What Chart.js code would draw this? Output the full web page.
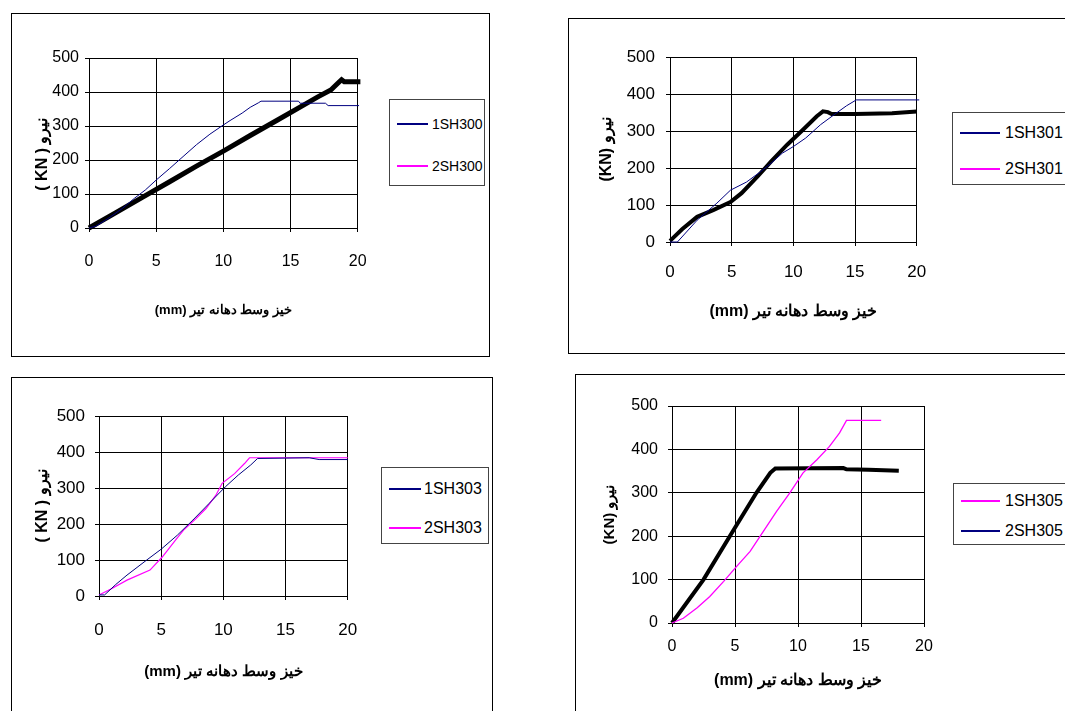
<!DOCTYPE html>
<html>
<head>
<meta charset="utf-8">
<script src="https://cdn.jsdelivr.net/npm/chart.js@4.4.1/dist/chart.umd.min.js"></script>
<style>
  html, body { margin: 0; padding: 0; background: #fff; }
  body { width: 1065px; height: 711px; position: relative; overflow: hidden; font-family: "Liberation Sans", Arial, sans-serif; }
  .frame { position: absolute; border: 1px solid #000; box-sizing: border-box; }
  canvas { position: absolute; }
  .legend { position: absolute; border: 1px solid #444; box-sizing: border-box; background: #fff; }
  .lg-line { position: absolute; height: 0; }
  .lg-text { position: absolute; white-space: nowrap; color: #000; }
</style>
</head>
<body>
<div class="frame" style="left:11px;top:13px;width:479px;height:344px"></div>
<div class="frame" style="left:568px;top:18px;width:600px;height:336px"></div>
<div class="frame" style="left:11px;top:377px;width:482px;height:400px"></div>
<div class="frame" style="left:575px;top:374px;width:600px;height:400px"></div>
<canvas id="c1"></canvas>
<canvas id="c2"></canvas>
<canvas id="c3"></canvas>
<canvas id="c4"></canvas>
<script>
const NAVY = '#000080';
const MAGENTA = '#ff00ff';
const BLACK = '#000000';
const FONT = '"Liberation Sans", Arial, sans-serif';

const xTitle = '(mm) خیز وسط دهانه تیر';

// panel 1: 1SH300 / 2SH300
const sh300_1x = [0, 0.5, 1.5, 2.5, 3.4, 4.2, 5, 6, 7, 8, 9, 10, 10.5, 11.4, 12, 12.6, 12.8, 15.6, 15.7, 17.6, 17.8, 20.1];
const sh300_1y = [0, 5, 30, 58, 88, 112, 141, 175, 210, 245, 276, 303, 316, 338, 355, 368, 373, 373, 367, 367, 360, 360];
const sh300_2x = [0, 2, 4, 6, 8, 10, 12, 14, 16, 17, 18, 18.5, 18.8, 19, 20.2];
const sh300_2y = [0, 45, 91, 136, 182, 226, 272, 317, 362, 385, 406, 425, 436, 430, 430];

// panel 2: 1SH301 / 2SH301
const sh301_1x = [0, 0.6, 2.2, 3.8, 4.9, 6.2, 7.3, 8.2, 9.1, 10, 11, 12.2, 13.3, 14.3, 15.1, 20.2];
const sh301_1y = [0, 0, 59, 105, 140, 162, 189, 213, 240, 258, 281, 317, 344, 368, 384, 384];
const sh301_2x = [0, 1, 2.2, 3.5, 4.9, 5.8, 7.1, 8.2, 9.5, 10.8, 11.9, 12.4, 12.8, 13.1, 15, 18, 20];
const sh301_2y = [3, 35, 68, 86, 108, 132, 177, 218, 263, 304, 340, 353, 351, 346, 346, 348, 353];

// panel 3: 1SH303 / 2SH303
const sh303_1x = [0, 0.45, 1.35, 2.25, 3.8, 5, 6.3, 7.55, 8.85, 10.15, 11.2, 12.2, 12.75, 16.9, 17.7, 20];
const sh303_1y = [3, 3, 32, 58, 99, 130, 169, 211, 257, 303, 336, 364, 382, 384, 379, 379];
const sh303_2x = [0, 1, 2.25, 4.1, 5.1, 6.15, 6.8, 7.8, 8.6, 9.4, 9.9, 10.9, 11.7, 12.1, 20];
const sh303_2y = [3, 20, 44, 72, 109, 155, 183, 215, 243, 280, 313, 340, 368, 384, 384];

// panel 4: 1SH305 / 2SH305
const sh305_1x = [0, 0.9, 2, 3, 4.1, 5.15, 6.2, 7.25, 8.3, 9.35, 10.4, 11.5, 12.5, 13.3, 13.85, 16.6];
const sh305_1y = [0, 11, 35, 61, 96, 131, 165, 211, 257, 300, 346, 376, 407, 438, 467, 467];
const sh305_2x = [0, 2.5, 4.9, 6.7, 7.8, 8.2, 13.6, 13.85, 15.6, 18];
const sh305_2y = [0, 100, 215, 300, 346, 356, 357, 354, 353, 351];

const panels = [
  {
    id: 'c1', rect: [12, 14, 375, 341], yAxisW: 77, padTop: 44, padRight: 20, xAxisH: 127,
    tickSize: 16, xTickPad: 20.4, yTickPad: 6,
    xTitleSize: 13, xTitlePad: 37.2, yTitleSize: 16, yTitlePad: 21.4,
    yTitle: '( KN ) نیرو     ',
    series: [
      { x: sh300_1x, y: sh300_1y, color: NAVY, width: 1 },
      { x: sh300_2x, y: sh300_2y, color: BLACK, width: 5 }
    ],
    legend: { box: [389, 99, 96, 87], line: [397, 428], text: 432, size: 14,
      items: [['1SH300', NAVY, 123], ['2SH300', MAGENTA, 165]] }
  },
  {
    id: 'c2', rect: [569, 19, 373, 333], yAxisW: 101, padTop: 38, padRight: 20, xAxisH: 110,
    tickSize: 17, xTickPad: 15.8, yTickPad: 11,
    xTitleSize: 16, xTitlePad: 30.4, yTitleSize: 16, yTitlePad: 28.4,
    yTitle: '(KN) نیرو',
    series: [
      { x: sh301_1x, y: sh301_1y, color: NAVY, width: 1 },
      { x: sh301_2x, y: sh301_2y, color: BLACK, width: 4 }
    ],
    legend: { box: [952, 112, 140, 73], line: [960, 1000], text: 1005, size: 16,
      items: [['1SH301', NAVY, 132], ['2SH301', MAGENTA, 168]] }
  },
  {
    id: 'c3', rect: [12, 378, 365, 333], yAxisW: 87, padTop: 38, padRight: 20, xAxisH: 115,
    tickSize: 17, xTickPad: 19.8, yTickPad: 10,
    xTitleSize: 15, xTitlePad: 30, yTitleSize: 16, yTitlePad: 21.4,
    yTitle: '( KN ) نیرو',
    series: [
      { x: sh303_1x, y: sh303_1y, color: NAVY, width: 1 },
      { x: sh303_2x, y: sh303_2y, color: MAGENTA, width: 1.2 }
    ],
    legend: { box: [381, 467, 108, 77], line: [389, 421], text: 424, size: 16,
      items: [['1SH303', NAVY, 488], ['2SH303', MAGENTA, 527]] }
  },
  {
    id: 'c4', rect: [576, 375, 368, 336], yAxisW: 96, padTop: 31, padRight: 20, xAxisH: 88,
    tickSize: 16, xTickPad: 10.4, yTickPad: 10,
    xTitleSize: 16, xTitlePad: 20.4, yTitleSize: 15, yTitlePad: 25,
    yTitle: '(KN) نیرو',
    series: [
      { x: sh305_1x, y: sh305_1y, color: MAGENTA, width: 1.3 },
      { x: sh305_2x, y: sh305_2y, color: BLACK, width: 4 }
    ],
    legend: { box: [953, 483, 140, 62], line: [961, 1000], text: 1005, size: 16,
      items: [['1SH305', MAGENTA, 500], ['2SH305', NAVY, 530]] }
  }
];

function drawLegend(lg) {
  const box = document.createElement('div');
  box.className = 'legend';
  box.style.left = lg.box[0] + 'px';
  box.style.top = lg.box[1] + 'px';
  box.style.width = lg.box[2] + 'px';
  box.style.height = lg.box[3] + 'px';
  document.body.appendChild(box);
  lg.items.forEach(function(it) {
    const ln = document.createElement('div');
    ln.className = 'lg-line';
    ln.style.left = lg.line[0] + 'px';
    ln.style.width = (lg.line[1] - lg.line[0]) + 'px';
    ln.style.top = it[2] + 'px';
    ln.style.borderTop = '2px solid ' + it[1];
    document.body.appendChild(ln);
    const tx = document.createElement('div');
    tx.className = 'lg-text';
    tx.textContent = it[0];
    tx.style.left = lg.text + 'px';
    tx.style.fontSize = lg.size + 'px';
    tx.style.lineHeight = '20px';
    tx.style.top = (it[2] - 9) + 'px';
    document.body.appendChild(tx);
  });
}

function buildChart(p) {
  const cv = document.getElementById(p.id);
  cv.width = p.rect[2];
  cv.height = p.rect[3];
  cv.style.left = p.rect[0] + 'px';
  cv.style.top = p.rect[1] + 'px';

  const tickFont = { family: FONT, size: p.tickSize };

  new Chart(cv, {
    type: 'line',
    data: {
      datasets: p.series.map(function(s) {
        return {
          data: s.x.map(function(x, i) { return { x: x, y: s.y[i] }; }),
          borderColor: s.color,
          borderWidth: s.width,
          pointRadius: 0,
          tension: 0,
          fill: false,
          clip: false
        };
      })
    },
    options: {
      responsive: false,
      animation: false,
      events: [],
      layout: { padding: { top: p.padTop, right: p.padRight, left: 0, bottom: 0 } },
      plugins: { legend: { display: false }, tooltip: { enabled: false } },
      scales: {
        x: {
          type: 'linear', min: 0, max: 20,
          ticks: { stepSize: 5, padding: p.xTickPad, color: '#000', font: tickFont, maxRotation: 0 },
          grid: { color: '#000', tickColor: '#000', tickLength: 4, lineWidth: 1 },
          border: { color: '#000' },
          title: { display: true, text: xTitle, color: '#000',
            font: { family: FONT, size: p.xTitleSize, weight: 'bold' },
            padding: { top: 0, bottom: p.xTitlePad } },
          afterFit: function(s) { s.height = p.xAxisH; }
        },
        y: {
          type: 'linear', min: 0, max: 500,
          ticks: { stepSize: 100, padding: p.yTickPad, color: '#000', font: tickFont },
          grid: { color: '#000', tickColor: '#000', tickLength: 4, lineWidth: 1 },
          border: { color: '#000' },
          title: { display: true, text: p.yTitle, color: '#000',
            font: { family: FONT, size: p.yTitleSize, weight: 'bold' },
            padding: { top: p.yTitlePad, bottom: 0 } },
          afterFit: function(s) { s.width = p.yAxisW; }
        }
      }
    }
  });
  drawLegend(p.legend);
}

panels.forEach(buildChart);
</script>
</body>
</html>
